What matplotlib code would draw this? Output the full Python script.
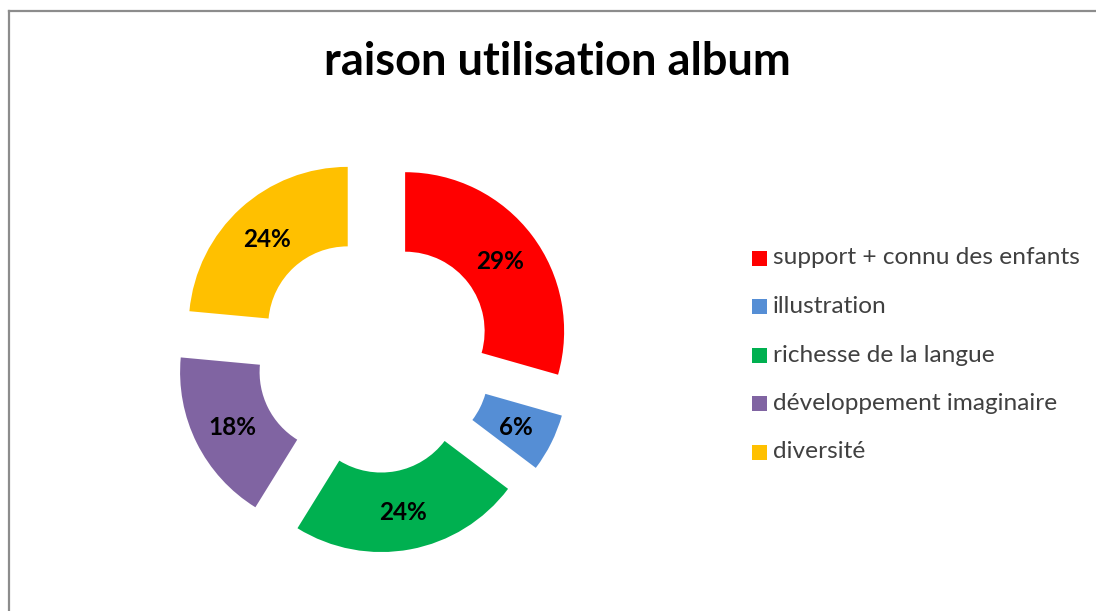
import matplotlib
matplotlib.use("Agg")
import matplotlib.pyplot as plt
from matplotlib.patches import Rectangle
from matplotlib.lines import Line2D

title = "raison utilisation album"
categories = ["support + connu des enfants", "illustration", "richesse de la langue",
              "développement imaginaire", "diversité"]
responses = [5, 1, 4, 3, 4]
colors = ["#FF0000", "#558ED5", "#00B050", "#8064A2", "#FFC000"]

W, H = 1096, 611
fig = plt.figure(figsize=(W / 100, H / 100), dpi=100)
ax = fig.add_axes([0, 0, 1, 1])

cx, cy, R = 374, H - 354.7, 159
wedges, texts, autotexts = ax.pie(
    responses, colors=colors, startangle=90, counterclock=False,
    explode=[39] * len(responses), center=(cx, cy), radius=R,
    wedgeprops=dict(width=0.5 * R, linewidth=0),
    autopct="%.0f%%", pctdistance=0.75,
    textprops=dict(family="Lato", fontweight="bold", fontsize=17.5, color="black"))
for t in autotexts:
    t.set_verticalalignment("center_baseline")
ax.set_xlim(0, W)
ax.set_ylim(0, H)
ax.set_aspect("equal")
ax.axis("off")

# title
ax.text(557, H - 62, title, ha="center", va="center", family="Lato",
        fontweight="bold", fontsize=32.5, color="black")

# legend
lx, ly0, step, sq = 752, 258, 48.5, 15
for i, (lab, col) in enumerate(zip(categories, colors)):
    y = H - (ly0 + i * step)
    ax.add_patch(Rectangle((lx, y - sq / 2), sq, sq, facecolor=col, edgecolor="none"))
    ax.text(lx + 21, y, lab, ha="left", va="center", family="Lato",
            fontsize=17.6, color="#404040")

# frame (left and top only, chart area cropped)
ax.add_line(Line2D([9, 9], [0, H - 11], color="#8c8c8c", lw=1.6))
ax.add_line(Line2D([9, W], [H - 11, H - 11], color="#8c8c8c", lw=1.6))

fig.savefig("out.png", dpi=100)
